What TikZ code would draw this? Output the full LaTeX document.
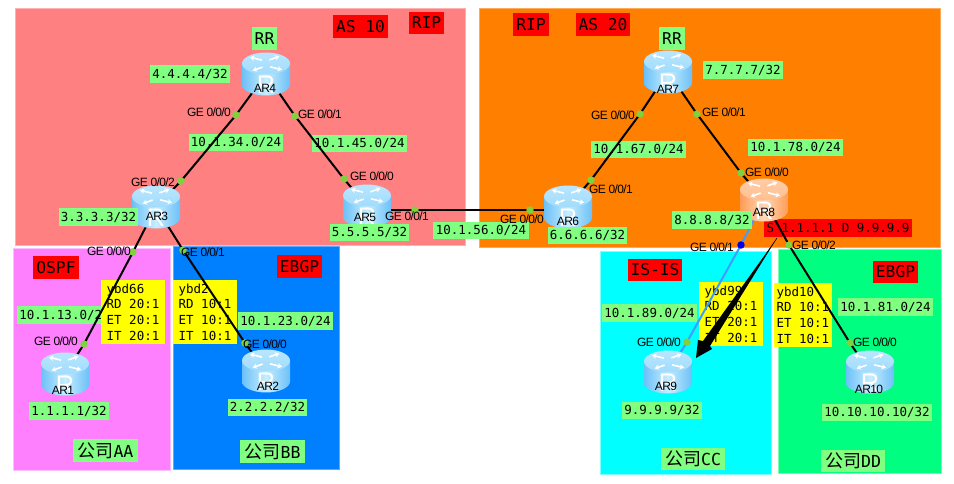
\documentclass[tikz,border=0pt]{standalone}
\usepackage{fontspec}
\setmainfont{Liberation Sans}
\newfontfamily\monof{DejaVu Sans Mono}
\newfontfamily\cjkf{Noto Sans CJK SC}
\newfontfamily\gef[LetterSpace=-5]{Liberation Sans}
\usetikzlibrary{calc,arrows.meta}
\pgfdeclarelayer{regions}
\pgfdeclarelayer{labels}
\pgfdeclarelayer{links}
\pgfsetlayers{regions,labels,links,main}
\definecolor{labgreen}{HTML}{80FF80}
\definecolor{dotgreen}{HTML}{80D040}
\definecolor{linkblue}{HTML}{409CFF}
\definecolor{pureyellow}{HTML}{FFFF00}
\definecolor{purered}{HTML}{FF0000}
\definecolor{purecyan}{HTML}{00FFFF}
\definecolor{pureblue}{HTML}{0000F0}
\definecolor{redzone}{HTML}{FF8080}
\definecolor{redzoneb}{HTML}{FFB0B0}
\definecolor{orangezone}{HTML}{FF8000}
\definecolor{orangezoneb}{HTML}{FFAA5A}
\definecolor{pinkzone}{HTML}{FF80FF}
\definecolor{pinkzoneb}{HTML}{FFBEFF}
\definecolor{bluezone}{HTML}{0080FF}
\definecolor{bluezoneb}{HTML}{5AAAFF}
\definecolor{cyanzoneb}{HTML}{80FFFF}
\definecolor{greenzone}{HTML}{00FF80}
\definecolor{greenzoneb}{HTML}{78FFB4}
\definecolor{bedge}{HTML}{6CC0F8}
\definecolor{bmid}{HTML}{C6EEFF}
\definecolor{btop}{HTML}{B8E6FF}
\definecolor{oedge}{HTML}{FF9C58}
\definecolor{omid}{HTML}{FFD8B8}
\definecolor{otop}{HTML}{FFCCA8}
\tikzset{
  region/.style={line width=0.75pt},
  boxlab/.style={inner sep=0pt,outer sep=0pt,anchor=center},
  ip/.style={boxlab,fill=labgreen,text=black,font=\monof\fontsize{9.35}{11}\selectfont},
  tag/.style={boxlab,fill=purered,text=black,font=\monof\fontsize{12.2}{14}\selectfont},
  rr/.style={boxlab,fill=labgreen,text=black,font=\monof\fontsize{12.2}{14}\selectfont},
  firm/.style={boxlab,fill=labgreen,text=black,font=\fontsize{12.4}{14}\selectfont},
  vpn/.style={inner sep=2pt,outer sep=0pt,fill=pureyellow,text=black,align=left,anchor=north west,font=\monof\fontsize{9.35}{11.7}\selectfont},
  ge/.style={inner sep=0pt,text=black,font=\gef\fontsize{9}{10}\selectfont},
  arname/.style={inner sep=0pt,text=black,font=\gef\fontsize{9}{10}\selectfont},
  port/.style={circle,fill=dotgreen,inner sep=0pt,minimum size=5.6pt},
  portb/.style={circle,fill=pureblue,inner sep=0pt,minimum size=5.6pt},
  link/.style={black,line width=1.5pt},
  linkb/.style={linkblue,line width=1.5pt},
  rbox/.style={inner sep=0pt,minimum width=36pt,minimum height=32pt},
  icon/.style={white,line width=1.2pt,-{Stealth[length=3.2pt,width=4pt]}}
}
\newcommand{\firmtext}[1]{{\cjkf\fontsize{13.5}{14}\selectfont 公司}{\monof #1}}
% box helper: corners in reference pixels
\newcommand{\lab}[7]{%
  \pgfmathsetlengthmacro{\bw}{(#4-#2)*0.75pt}%
  \pgfmathsetlengthmacro{\bh}{(#5-#3)*0.75pt}%
  \node[#1,minimum width=\bw,minimum height=\bh] (#6) at ({(#2+#4)/2},{(#3+#5)/2}) {#7};}
% router: name, x, y, edge, light, top colour
\newcommand{\router}[6]{%
  \node[rbox] (#1) at (#2,#3) {};
  \begin{scope}[shift={(#2,#3)}]
    \path[left color=#4,right color=#4,middle color=#5]
      (-18pt,7.9pt) -- (-18pt,-7.9pt) arc[start angle=180,end angle=360,x radius=18pt,y radius=8.2pt]
      -- (18pt,7.9pt) -- cycle;
    \path[top color=#6,bottom color=#5!60!#4] (0pt,7.9pt) ellipse[x radius=18pt,y radius=8.2pt];
    \draw[icon] (-3pt,10.4pt) -- (-12pt,12.6pt);
    \draw[icon] (3pt,5.4pt) -- (12pt,3.2pt);
    \draw[icon] (2.5pt,10.6pt) -- (10pt,13.2pt);
    \draw[icon] (-2.5pt,5.2pt) -- (-10pt,2.6pt);
    \node[inner sep=0pt,text=white,font=\fontsize{19}{19}\selectfont] (#1-glyph) at (0pt,-8pt) {R};
  \end{scope}}
\begin{document}
\begin{tikzpicture}[x=0.75pt,y=-0.75pt]
\useasboundingbox (0,0) rectangle (954,483);
\begin{pgfonlayer}{regions}
  \fill[white] (0,0) rectangle (954,483);
  \path[region,fill=redzone,draw=redzoneb] (15,8) rectangle (465,245);
  \path[region,fill=orangezone,draw=orangezoneb] (479,8) rectangle (940,247);
  \path[region,fill=pinkzone,draw=pinkzoneb] (13,248) rectangle (170,470);
  \path[region,fill=bluezone,draw=bluezoneb] (173,246) rectangle (339,469);
  \path[region,fill=purecyan,draw=cyanzoneb] (600,251) rectangle (771,474);
  \path[region,fill=greenzone,draw=greenzoneb] (778,249) rectangle (941,473);
\end{pgfonlayer}
\begin{pgfonlayer}{labels}
  \lab{tag}{333}{15}{388}{38}{as10}{AS 10}
  \lab{tag}{409}{12}{444}{34}{rip10}{RIP}
  \lab{tag}{513}{13}{549}{36}{rip20}{RIP}
  \lab{tag}{576}{13}{630}{36}{as20}{AS 20}
  \lab{tag}{33}{256}{79}{279}{ospf}{OSPF}
  \lab{tag}{277}{255}{322}{278}{ebgpa}{EBGP}
  \lab{tag}{628}{259}{682}{281}{isis}{IS-IS}
  \lab{tag}{873}{261}{918}{283}{ebgpb}{EBGP}
  \lab{rr}{252}{27}{277}{50}{rra}{RR}
  \lab{rr}{659}{27}{685}{50}{rrb}{RR}
  \lab{ip}{150}{65}{230}{83}{ip4}{4.4.4.4/32}
  \lab{ip}{703}{61}{783}{79}{ip7}{7.7.7.7/32}
  \lab{ip}{189}{134}{283}{151}{n34}{10.1.34.0/24}
  \lab{ip}{312}{135}{407}{152}{n45}{10.1.45.0/24}
  \lab{ip}{433}{222}{529}{239}{n56}{10.1.56.0/24}
  \lab{ip}{591}{141}{686}{158}{n67}{10.1.67.0/24}
  \lab{ip}{748}{139}{843}{156}{n78}{10.1.78.0/24}
  \lab{ip}{17}{306}{112}{324}{n13}{10.1.13.0/24}
  \lab{ip}{238}{312}{333}{330}{n23}{10.1.23.0/24}
  \lab{ip}{602}{304}{697}{322}{n89}{10.1.89.0/24}
  \lab{ip}{838}{298}{933}{316}{n81}{10.1.81.0/24}
  \lab{ip}{29}{402}{109}{420}{ip1}{1.1.1.1/32}
  \lab{ip}{228}{399}{307}{416}{ip2}{2.2.2.2/32}
  \lab{ip}{622}{402}{702}{419}{ip9}{9.9.9.9/32}
  \lab{ip}{822}{404}{932}{421}{ip10}{10.10.10.10/32}
  \lab{firm}{73}{439}{138}{462}{firma}{\firmtext{AA}}
  \lab{firm}{240}{440}{305}{463}{firmb}{\firmtext{BB}}
  \lab{firm}{661}{448}{725}{470}{firmc}{\firmtext{CC}}
  \lab{firm}{821}{450}{885}{472}{firmd}{\firmtext{DD}}
  \node[vpn,minimum width=48pt,minimum height=48pt] (v66) at (101,280) {ybd66\\RD 20:1\\ET 20:1\\IT 20:1};
  \node[vpn,minimum width=48pt,minimum height=48pt] (v2) at (173,280) {ybd2\\RD 10:1\\ET 10:1\\IT 10:1};
  \node[vpn,minimum width=48pt,minimum height=48pt] (v99) at (699,282) {ybd99\\RD 20:1\\ET 20:1\\IT 20:1};
  \node[vpn,minimum width=43pt,minimum height=48pt] (v10) at (774,283) {ybd10\\RD 10:1\\ET 10:1\\IT 10:1};
  \lab{tag,font=\monof\fontsize{9.35}{11}\selectfont}{764}{219}{912}{237}{sd}{S 1.1.1.1 D 9.9.9.9}
\end{pgfonlayer}
% routers
\router{ar4}{266}{74}{bedge}{bmid}{btop}
\router{ar3}{156}{207}{bedge}{bmid}{btop}
\router{ar5}{367}{206}{bedge}{bmid}{btop}
\router{ar6}{568}{207}{bedge}{bmid}{btop}
\router{ar7}{668}{72}{bedge}{bmid}{btop}
\router{ar8}{764}{200}{oedge}{omid}{otop}
\router{ar1}{65}{374}{bedge}{bmid}{btop}
\router{ar2}{266}{371}{bedge}{bmid}{btop}
\router{ar9}{668}{372}{bedge}{bmid}{btop}
\router{ar10}{870}{372}{bedge}{bmid}{btop}
% labels lying over routers
\lab{ip}{59}{208}{138}{226}{ip3}{3.3.3.3/32}
\lab{ip}{330}{224}{409}{241}{ip5}{5.5.5.5/32}
\lab{ip}{548}{227}{627}{244}{ip6}{6.6.6.6/32}
\lab{ip}{672}{211}{752}{229}{ip8}{8.8.8.8/32}
% router names
\node[arname] (t4) at (265,88) {AR4};
\node[arname] (t3) at (157,216) {AR3};
\node[arname] (t5) at (365,217) {AR5};
\node[arname] (t6) at (568,221) {AR6};
\node[arname] (t7) at (668,89) {AR7};
\node[arname] (t8) at (764,212) {AR8};
\node[arname] (t1) at (63,390) {AR1};
\node[arname] (t2) at (268,386) {AR2};
\node[arname] (t9) at (666,386) {AR9};
\node[arname] (t10) at (869,389) {AR10};
% ports
\node[port] (p43) at (236,115) {};
\node[port] (p34) at (181,181) {};
\node[port] (p45) at (295,116) {};
\node[port] (p54) at (344,179) {};
\node[port] (p31) at (133,252) {};
\node[port] (p13) at (84,344) {};
\node[port] (p32) at (183,250) {};
\node[port] (p23) at (245,343) {};
\node[port] (p56) at (415,210) {};
\node[port] (p65) at (530,210) {};
\node[port] (p67) at (591,180) {};
\node[port] (p76) at (640,114) {};
\node[port] (p78) at (697,114) {};
\node[port] (p87) at (741,173) {};
\node[portb] (p89) at (741,245) {};
\node[port] (p98) at (687,342) {};
\node[port] (p810) at (789,245) {};
\node[port] (p108) at (850,343) {};
% port names
\node[ge] (g1) at (209,112) {GE 0/0/0};
\node[ge] (g2) at (320,114) {GE 0/0/1};
\node[ge] (g3) at (153,182) {GE 0/0/2};
\node[ge] (g4) at (372,176) {GE 0/0/0};
\node[ge] (g5) at (407,216) {GE 0/0/1};
\node[ge] (g6) at (613,115) {GE 0/0/0};
\node[ge] (g7) at (724,112) {GE 0/0/1};
\node[ge] (g8) at (767,172) {GE 0/0/0};
\node[ge] (g9) at (611,189) {GE 0/0/1};
\node[ge] (g10) at (522,219) {GE 0/0/0};
\node[ge] (g11) at (109,251) {GE 0/0/0};
\node[ge] (g12) at (203,252) {GE 0/0/1};
\node[ge] (g13) at (56,341) {GE 0/0/0};
\node[ge] (g14) at (265,344) {GE 0/0/0};
\node[ge] (g15) at (712,247) {GE 0/0/1};
\node[ge] (g16) at (814,245) {GE 0/0/2};
\node[ge] (g17) at (659,342) {GE 0/0/0};
\node[ge] (g18) at (875,342) {GE 0/0/0};
% traffic arrow end points
\coordinate (flowa) at (777,238);
\coordinate (flowb) at (696,358);
\begin{pgfonlayer}{links}
  \draw[link] (ar4.center) -- (p43.center) -- (p34.center) -- (ar3.center);
  \draw[link] (ar4.center) -- (p45.center) -- (p54.center) -- (ar5.center);
  \draw[link] (ar3.center) -- (p31.center) -- (p13.center) -- (ar1.center);
  \draw[link] (ar3.center) -- (p32.center) -- (p23.center) -- (ar2.center);
  \draw[link] ($(ar5.center)+(0,4)$) -- (p56.center) -- (p65.center) -- ($(ar6.center)+(0,3)$);
  \draw[link] (ar6.center) -- (p67.center) -- (p76.center) -- (ar7.center);
  \draw[link] (ar7.center) -- (p78.center) -- (p87.center) -- (ar8.center);
  \draw[linkb] (ar8.center) -- (p89.center) -- (p98.center) -- (ar9.center);
  \draw[link] (ar8.center) -- (p810.center) -- (p108.center) -- (ar10.center);
  \fill[black] (flowa) -- ($(flowb)+(14,-12)$) -- ($(flowb)+(16,-9)$) -- (flowb) -- ($(flowb)+(2,-18)$) -- ($(flowb)+(7,-17)$) -- cycle;
  \draw[black,line width=0.4pt] (flowa) -- ($(flowb)+(10,-14)$);
\end{pgfonlayer}
\end{tikzpicture}
\end{document}
